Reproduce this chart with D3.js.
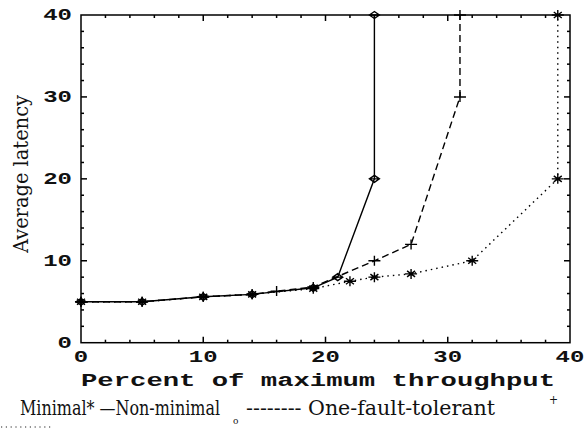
<!DOCTYPE html>
<html>
<head>
<meta charset="utf-8">
<script src="https://cdn.jsdelivr.net/npm/d3@7"></script>
<style>
  html, body { margin: 0; padding: 0; background: #fff; }
  svg { display: block; }
</style>
</head>
<body>
<svg id="chart" width="584" height="433"></svg>
<script>
// ---- data ----
const minimalX = [0, 5, 10, 14, 19, 21, 24, 24];
const minimalY = [5, 5, 5.6, 5.9, 6.7, 8, 20, 40];
const nonMinimalX = [0, 5, 10, 14, 16, 19, 24, 27, 31, 31];
const nonMinimalY = [5, 5, 5.6, 5.9, 6.3, 6.8, 10, 12, 30, 40];
const faultX = [0, 5, 10, 14, 19, 22, 24, 27, 32, 39, 39];
const faultY = [5, 5, 5.6, 5.9, 6.6, 7.5, 8, 8.4, 10, 20, 40];
const xTicks = [0, 10, 20, 30, 40];
const yTicks = [0, 10, 20, 30, 40];
const xLabel = "Percent of maximum throughput";
const yLabel = "Average latency";

const svg = d3.select("#chart");
const L = 81, R = 570, T = 15, B = 342.7;
const x = d3.scaleLinear().domain([0, 40]).range([L, R]);
const y = d3.scaleLinear().domain([0, 40]).range([B, T]);

// ---- frame & ticks (inward, all four sides) ----
const minor = d3.range(0, 41, 2);
const g = svg.append("g");
const tickLen = v => (v % 10 === 0 ? 6 : 3);
g.append("rect").attr("x", L).attr("y", T).attr("width", R - L).attr("height", B - T)
  .attr("fill", "none").attr("stroke", "#000").attr("stroke-width", 1.5);
minor.forEach(v => {
  if (v === 0 || v === 40) return;
  const len = tickLen(v);
  g.append("line").attr("x1", x(v)).attr("x2", x(v)).attr("y1", B).attr("y2", B - len);
  g.append("line").attr("x1", x(v)).attr("x2", x(v)).attr("y1", T).attr("y2", T + len);
  g.append("line").attr("y1", y(v)).attr("y2", y(v)).attr("x1", L).attr("x2", L + len);
  g.append("line").attr("y1", y(v)).attr("y2", y(v)).attr("x1", R).attr("x2", R - len);
});
g.selectAll("line").attr("stroke", "#000").attr("stroke-width", 1.5);

// ---- tick labels ----
const tickFont = "'Liberation Mono', 'DejaVu Sans Mono', monospace";
xTicks.forEach(v => {
  svg.append("text").text(v)
    .attr("transform", `translate(${x(v)},${362}) scale(1.5,1)`)
    .attr("text-anchor", "middle")
    .attr("font-family", tickFont).attr("font-weight", "bold").attr("font-size", 16)
    .attr("fill", "#111");
});
yTicks.forEach(v => {
  svg.append("text").text(v)
    .attr("transform", `translate(${72},${y(v) + 5}) scale(1.5,1)`)
    .attr("text-anchor", "end")
    .attr("font-family", tickFont).attr("font-weight", "bold").attr("font-size", 16)
    .attr("fill", "#111");
});

// ---- axis titles ----
const serif = "'DejaVu Serif Condensed', 'DejaVu Serif', serif";
svg.append("text").text(xLabel)
  .attr("x", 81).attr("y", 386)
  .attr("textLength", 474).attr("lengthAdjust", "spacingAndGlyphs")
  .attr("font-family", "'Liberation Mono', monospace").attr("font-weight", "bold")
  .attr("font-size", 19).attr("fill", "#111");
svg.append("text").text(yLabel)
  .attr("transform", "translate(28,253) rotate(-90)")
  .attr("textLength", 158).attr("lengthAdjust", "spacingAndGlyphs")
  .attr("font-family", serif)
  .attr("font-size", 20).attr("fill", "#111");

// ---- series ----
const line = d3.line().x(d => x(d[0])).y(d => y(d[1]));
const zip = (a, b) => a.map((v, i) => [v, b[i]]);
const series = [
  { pts: zip(minimalX, minimalY), dash: null, marker: "diamond" },
  { pts: zip(nonMinimalX, nonMinimalY), dash: "7,4", marker: "plus" },
  { pts: zip(faultX, faultY), dash: "1.5,4", marker: "star" }
];
series.slice().reverse().forEach(s => {
  svg.append("path").datum(s.pts).attr("d", line)
    .attr("fill", "none").attr("stroke", "#000").attr("stroke-width", 1.4)
    .attr("stroke-dasharray", s.dash);
});
series.forEach(s => {
  s.pts.forEach(p => {
    const cx = x(p[0]), cy = y(p[1]);
    let d;
    if (s.marker === "diamond") d = `M${cx - 5},${cy}L${cx},${cy - 3.5}L${cx + 5},${cy}L${cx},${cy + 3.5}Z M${cx - 5},${cy}H${cx + 5}`;
    else if (s.marker === "plus") d = `M${cx - 6},${cy}H${cx + 6}M${cx},${cy - 5}V${cy + 5}`;
    else d = `M${cx - 6},${cy}H${cx + 6}M${cx},${cy - 5}V${cy + 5}M${cx - 4},${cy - 3}L${cx + 4},${cy + 3}M${cx - 4},${cy + 3}L${cx + 4},${cy - 3}`;
    svg.append("path").attr("d", d).attr("fill", "none").attr("stroke", "#000").attr("stroke-width", 1.4);
  });
});

// ---- legend (text line below the chart) ----
svg.append("text").text("Minimal* \u2014Non-minimal")
  .attr("transform", "translate(20,415) scale(1,1.12)")
  .attr("textLength", 200).attr("lengthAdjust", "spacingAndGlyphs")
  .attr("font-family", serif).attr("font-size", 19).attr("fill", "#111");
svg.append("text").text("o").attr("x", 233).attr("y", 424)
  .attr("font-family", serif).attr("font-size", 10).attr("fill", "#111");
svg.append("text").text("-------- One-fault-tolerant")
  .attr("transform", "translate(246,415) scale(1,1.12)")
  .attr("textLength", 249).attr("lengthAdjust", "spacingAndGlyphs")
  .attr("font-family", serif).attr("font-size", 19).attr("fill", "#111");
svg.append("text").text("+").attr("x", 549).attr("y", 404)
  .attr("font-family", serif).attr("font-size", 12).attr("fill", "#111");
svg.append("line").attr("x1", 1).attr("x2", 53).attr("y1", 427).attr("y2", 427)
  .attr("stroke", "#222").attr("stroke-width", 1.2).attr("stroke-dasharray", "1.2,3.6");
</script>
</body>
</html>
